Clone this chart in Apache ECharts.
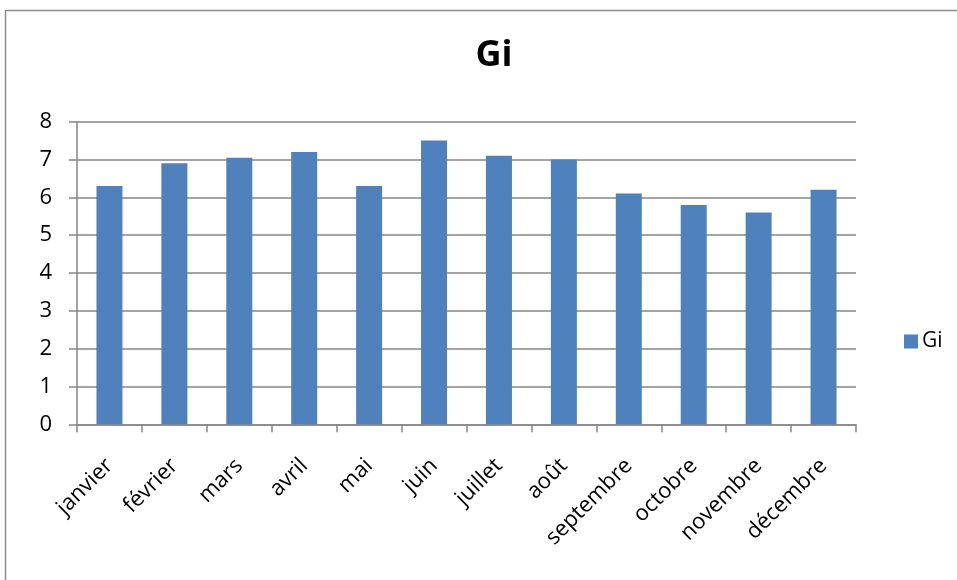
<!DOCTYPE html>
<html>
<head>
<meta charset="utf-8">
<script src="https://cdn.jsdelivr.net/npm/echarts@6/dist/echarts.min.js"></script>
<style>
  html, body { margin: 0; padding: 0; background: #ffffff; }
  #chart { width: 957px; height: 580px; }
</style>
</head>
<body>
<div id="chart"></div>
<script>
// Monthly values of Gi
const months = ['janvier', 'février', 'mars', 'avril', 'mai', 'juin',
  'juillet', 'août', 'septembre', 'octobre', 'novembre', 'décembre'];
const giValues = [6.3, 6.9, 7.05, 7.2, 6.3, 7.5, 7.1, 7.0, 6.1, 5.8, 5.6, 6.2];
const seriesName = 'Gi';
const yTicks = [0, 1, 2, 3, 4, 5, 6, 7, 8];

const fontFamily = '"Open Sans", "Liberation Sans", sans-serif';
const axisGray = '#868686';

const chart = echarts.init(document.getElementById('chart'), null, { renderer: 'canvas' });
chart.setOption({
  backgroundColor: '#ffffff',
  animation: false,
  textStyle: { fontFamily: fontFamily },
  graphic: [{
    type: 'rect',
    shape: { x: 5.5, y: 10.5, width: 1000, height: 1000 },
    style: { fill: 'none', stroke: '#8c8c8c', lineWidth: 1.5 },
    silent: true
  }],
  title: {
    text: seriesName,
    left: 489,
    top: 33,
    textAlign: 'center',
    textStyle: { fontSize: 36, fontWeight: 'bold', color: '#000000', fontFamily: fontFamily }
  },
  legend: {
    data: [seriesName],
    left: 899,
    top: 326,
    itemWidth: 14,
    itemHeight: 14,
    itemGap: 6,
    icon: 'rect',
    textStyle: { fontSize: 21, color: '#000000', fontFamily: fontFamily, padding: [0, 0, 0, -1] }
  },
  grid: { left: 77, top: 121.7, right: 101, bottom: 155.7, containLabel: false },
  xAxis: {
    type: 'category',
    data: months,
    boundaryGap: true,
    axisLine: { lineStyle: { color: axisGray, width: 1.5 } },
    axisTick: { show: true, length: 8, lineStyle: { color: axisGray, width: 1.5 } },
    axisLabel: {
      rotate: 45,
      interval: 0,
      margin: 38,
      fontSize: 22,
      color: '#000000',
      fontFamily: fontFamily
    }
  },
  yAxis: {
    type: 'value',
    min: yTicks[0],
    max: yTicks[yTicks.length - 1],
    interval: 1,
    axisLine: { show: true, lineStyle: { color: axisGray, width: 1.5 } },
    axisTick: { show: true, length: 8, lineStyle: { color: axisGray, width: 1.5 } },
    axisLabel: { fontSize: 22, color: '#000000', margin: 25, fontFamily: fontFamily },
    splitLine: { show: true, lineStyle: { color: axisGray, width: 1.5 } }
  },
  series: [{
    name: seriesName,
    type: 'bar',
    data: giValues,
    barWidth: 26,
    itemStyle: { color: '#4F81BD' }
  }]
});
</script>
</body>
</html>
